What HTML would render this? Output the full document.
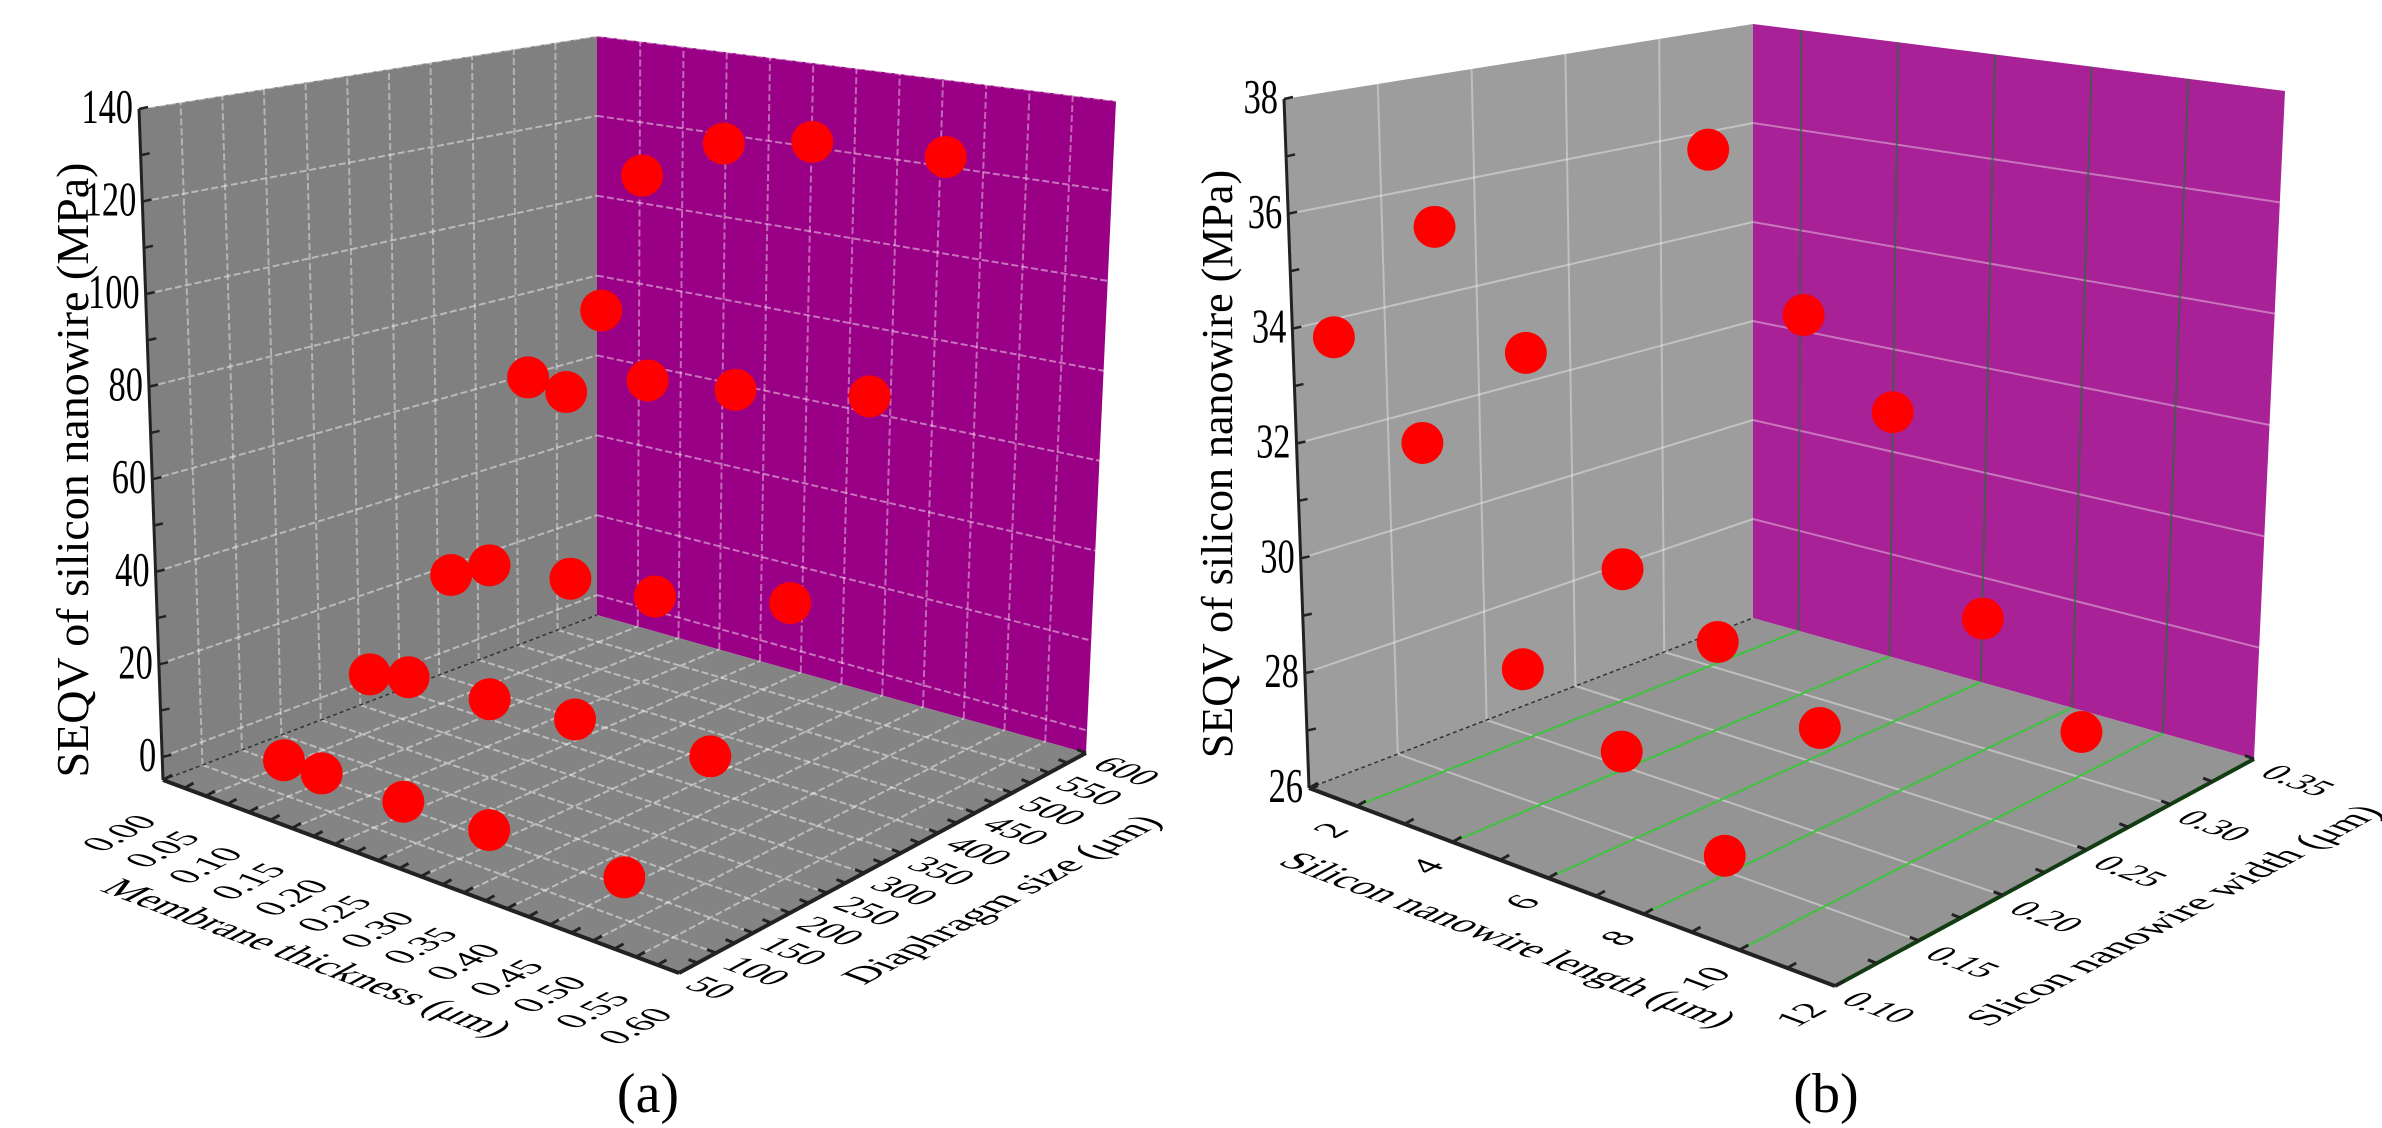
<!DOCTYPE html>
<html><head><meta charset="utf-8"><style>
html,body{margin:0;padding:0;background:#fff;}
svg{display:block;font-family:"Liberation Serif",serif;}
</style></head><body>
<svg id="fig" width="2382" height="1128" viewBox="0 0 2382 1128" xmlns="http://www.w3.org/2000/svg">
<g id="pa"></g>
<g id="pb"></g>
</svg>
<script>
// Panel (a) data
const aThickness = [0.27,0.305,0.353,0.427,0.265, 0.202,0.244,0.273,0.334,0.418, 0.170,0.177,0.245,0.315,0.402, 0.137,0.163,0.211,0.254,0.326, 0.073,0.118,0.208,0.303,0.456];
const aSize = [368,431,489,577,323, 300,302,373,418,498, 236,277,306,338,418, 167,188,239,302,400, 125,124,130,136,142];
const aSeqv = [124.6,130.2,129.5,124,96.6, 80.2,78.8,78.8,76.8,74, 38.6,38.6,37.5,35.2,32.7, 19.3,18.9,13.6,7.3,-4, -0.7,-0.5,-1.1,-1.4,-2];
const aThickTicks = ["0.00","0.05","0.10","0.15","0.20","0.25","0.30","0.35","0.40","0.45","0.50","0.55","0.60"];
const aSizeTicks = ["50","100","150","200","250","300","350","400","450","500","550","600"];
const aZTicks = ["0","20","40","60","80","100","120","140"];
// Panel (b) data
const bLength = [3.97,1.65,1.5,2.82,2.23,5.04,6.62,4.24,8.05,5.34,3.22,6.33,9.5,4.67,8.84];
const bWidth = [0.248,0.161,0.109,0.178,0.136,0.272,0.28,0.192,0.295,0.216,0.1625,0.248,0.315,0.179,0.124];
const bSeqv = [36.7,35.5,33.9,33.36,32,33.64,32.08,29.7,28.45,28.4,28,26.7,26.45,26.75,26.87];
const bLenTicks = ["2","4","6","8","10","12"];
const bWidthTicks = ["0.10","0.15","0.20","0.25","0.30","0.35"];
const bZTicks = ["26","28","30","32","34","36","38"];

const NS = "http://www.w3.org/2000/svg";
const PA = {L:[163,780],F:[679,973],B:[597,615],R:[1086,753],Lt:[139,109],Ft:[685,229],Bt:[597,36],Rt:[1116,101]};
const PB = {L:[1309,788],F:[1835,986],B:[1753,618],R:[2254,759],Lt:[1284,99],Ft:[1841,223],Bt:[1753,24],Rt:[2285,91]};

function proj(P,a,b,z){
  const f=(k,A,Bq,C,D)=>(1-a)*(1-b)*P[A][k]+a*(1-b)*P[Bq][k]+(1-a)*b*P[C][k]+a*b*P[D][k];
  const x0=f(0,'L','F','B','R'), y0=f(1,'L','F','B','R');
  const x1=f(0,'Lt','Ft','Bt','Rt'), y1=f(1,'Lt','Ft','Bt','Rt');
  return [x0+z*(x1-x0), y0+z*(y1-y0)];
}
function mk(tag, parent, attrs){
  const e=document.createElementNS(NS,tag);
  for(const k in attrs) e.setAttribute(k,attrs[k]);
  parent.appendChild(e); return e;
}
function poly(parent,P,pts,fill,name){
  const e=mk('polygon',parent,{points:pts.map(p=>proj(P,p[0],p[1],p[2]).join(',')).join(' '),fill:fill});
  
  
}
function line(parent,p,q,stroke,w,dash,name){
  const e=mk('line',parent,{x1:p[0],y1:p[1],x2:q[0],y2:q[1],stroke:stroke,'stroke-width':w});
  if(dash) e.setAttribute('stroke-dasharray',dash);
  
  
  return e;
}
function text(parent,str,tr,size,anchor,name){
  const e=mk('text',parent,{transform:tr,'font-size':size,'text-anchor':anchor,fill:'#000'});
  e.textContent=str;
  
  
  return e;
}
const MV="matrix(0.88,-0.476,0.937,0.35,";
const MU="matrix(0.937,0.35,-0.88,0.476,";

function drawPanel(g,P,cfg){
  poly(g,P,[[0,0,0],[0,1,0],[0,1,1],[0,0,1]],cfg.wall,'left-wall');
  poly(g,P,[[0,1,0],[1,1,0],[1,1,1],[0,1,1]],cfg.purple,'right-wall');
  poly(g,P,[[0,0,0],[1,0,0],[1,1,0],[0,1,0]],cfg.floor,'floor');
  cfg.zGrid.forEach(z=>{
    line(g,proj(P,0,0,z),proj(P,0,1,z),cfg.grid,2,cfg.dash,'left-wall-z-gridline');
    line(g,proj(P,0,1,z),proj(P,1,1,z),cfg.grid,2,cfg.dash,'right-wall-z-gridline');
  });
  cfg.bGrid.forEach(b=>{
    line(g,proj(P,0,b,0),proj(P,0,b,1),cfg.wallV,2,cfg.dash,'left-wall-vertical-gridline');
    line(g,proj(P,0,b,0),proj(P,1,b,0),cfg.floorB,2,cfg.dash,'floor-gridline');
  });
  cfg.aGrid.forEach(a=>{
    line(g,proj(P,a,1,0),proj(P,a,1,1),cfg.purpleV,2,cfg.dash,'right-wall-vertical-gridline');
    line(g,proj(P,a,0,0),proj(P,a,1,0),cfg.floorA,2,cfg.dash,'floor-gridline');
  });
  line(g,proj(P,0,0,0),proj(P,0,1,0),'#333',1.5,'4 3','floor-back-edge');
  line(g,proj(P,0,0,0),proj(P,1,0,0),'#222',4,null,'x-axis-line');
  line(g,proj(P,1,0,0),proj(P,1,1,0),cfg.axis2,4,null,'y-axis-line');
  line(g,proj(P,0,0,0),proj(P,0,0,1),'#222',3,null,'z-axis-line');
  cfg.aTickPos.forEach(a=>{const p=proj(P,a,0,0);line(g,p,[p[0]+9,p[1]-5],'#222',3,null,'x-axis-tick');});
  cfg.bTickPos.forEach(b=>{const p=proj(P,1,b,0);line(g,p,[p[0]-9,p[1]-3.5],'#222',3,null,'y-axis-tick');});
  cfg.zTickPos.forEach(z=>{const p=proj(P,0,0,z);line(g,p,[p[0]+9,p[1]-2],'#222',2.5,null,'z-axis-tick');});
}

// ---------- Panel A ----------
const ga=document.getElementById('pa');
const az=z=>(z+5)/145, at=t=>t/0.6, as=s=>(s-50)/550;
drawPanel(ga,PA,{wall:'#808080',floor:'#848484',purple:'#990085',grid:'rgba(255,255,255,0.45)',dash:'7 3',
  wallV:'rgba(255,255,255,0.4)',purpleV:'rgba(255,255,255,0.4)',floorA:'rgba(255,255,255,0.45)',floorB:'rgba(255,255,255,0.45)',axis2:'#222',
  zGrid:aZTicks.map(v=>az(+v)),
  bGrid:aSizeTicks.map(v=>as(+v)).filter(v=>v>0&&v<1),
  aGrid:aThickTicks.map(v=>at(+v)).filter(v=>v>0&&v<1),
  aTickPos:aThickTicks.map(v=>at(+v)).concat(aThickTicks.slice(1).map(v=>at(+v-0.025))),
  bTickPos:aSizeTicks.map(v=>as(+v)).concat(aSizeTicks.slice(1).map(v=>as(+v-25))),
  zTickPos:aZTicks.map(v=>az(+v)).concat(aZTicks.slice(1).map(v=>az(+v-10)))});
aZTicks.forEach(v=>{const p=proj(PA,0,0,az(+v));text(ga,v,`translate(${p[0]-6},${p[1]+14}) scale(0.82,1.15)`,42,'end','z-tick-label');});
aThickTicks.forEach(v=>{const p=proj(PA,at(+v),0,0);text(ga,v,MV+(p[0]-4)+','+(p[1]+42)+')',37,'end','x-tick-label');});
aSizeTicks.forEach(v=>{const p=proj(PA,1,as(+v),0);text(ga,v,MU+(p[0]+4)+','+(p[1]+14)+')',37,'start','y-tick-label');});
text(ga,'Membrane thickness (μm)',MU+'296,964)',40,'middle','x-axis-title');
text(ga,'Diaphragm size (μm)',MV+'1014,904)',40,'middle','y-axis-title');
text(ga,'SEQV of silicon nanowire (MPa)','translate(88,470) rotate(-90)',46,'middle','z-axis-title');
text(ga,'(a)','translate(648,1112)',56,'middle','panel-label-a');
const idxA=aSeqv.map((_,i)=>i).sort((i,j)=>(at(aThickness[i])-as(aSize[i]))-(at(aThickness[j])-as(aSize[j])));
idxA.forEach(i=>{const p=proj(PA,at(aThickness[i]),as(aSize[i]),az(aSeqv[i]));
  const c=mk('circle',ga,{cx:p[0],cy:p[1],r:21,fill:'#ff0000'});
  
  
});

// ---------- Panel B ----------
const gb=document.getElementById('pb');
const bz=z=>(z-26)/12, bl=l=>(l-1)/11, bw=w=>(w-0.1)/0.25;
drawPanel(gb,PB,{wall:'#9d9d9d',floor:'#949494',purple:'#a82196',grid:'rgba(255,255,255,0.38)',dash:null,
  wallV:'rgba(255,255,255,0.35)',purpleV:'rgba(40,110,50,0.7)',floorA:'#3cc43c',floorB:'rgba(255,255,255,0.4)',axis2:'#123d12',
  zGrid:bZTicks.map(v=>bz(+v)).filter(v=>v>0&&v<1),
  bGrid:bWidthTicks.map(v=>bw(+v)).filter(v=>v>0.01&&v<0.99),
  aGrid:bLenTicks.map(v=>bl(+v)).filter(v=>v>0&&v<0.99),
  aTickPos:bLenTicks.map(v=>bl(+v)).concat(bLenTicks.map(v=>bl(+v-1))),
  bTickPos:bWidthTicks.map(v=>bw(+v)).concat(bWidthTicks.slice(1).map(v=>bw(+v-0.025))),
  zTickPos:bZTicks.map(v=>bz(+v)).concat(bZTicks.slice(1).map(v=>bz(+v-1)))});
bZTicks.forEach(v=>{const p=proj(PB,0,0,bz(+v));text(gb,v,`translate(${p[0]-6},${p[1]+14}) scale(0.82,1.15)`,42,'end','z-tick-label');});
bLenTicks.forEach(v=>{const p=proj(PB,bl(+v),0,0);text(gb,v,MV+(p[0]-6)+','+(p[1]+24)+')',38,'end','x-tick-label');});
bWidthTicks.forEach(v=>{const p=proj(PB,1,bw(+v),0);text(gb,v,MU+(p[0]+4)+','+(p[1]+16)+')',36,'start','y-tick-label');});
text(gb,'Silicon nanowire length (μm)',MU+'1497,946)',40,'middle','x-axis-title');
text(gb,'Slicon nanowire width (μm)',MV+'2186,920)',40,'middle','y-axis-title');
text(gb,'SEQV of silicon nanowire  (MPa)','translate(1232,464) rotate(-90)',44,'middle','z-axis-title');
text(gb,'(b)','translate(1826,1112)',56,'middle','panel-label-b');
const idxB=bSeqv.map((_,i)=>i).sort((i,j)=>(bl(bLength[i])-bw(bWidth[i]))-(bl(bLength[j])-bw(bWidth[j])));
idxB.forEach(i=>{const p=proj(PB,bl(bLength[i]),bw(bWidth[i]),bz(bSeqv[i]));
  const c=mk('circle',gb,{cx:p[0],cy:p[1],r:21,fill:'#ff0000'});
  
  
});
</script>
</body></html>
